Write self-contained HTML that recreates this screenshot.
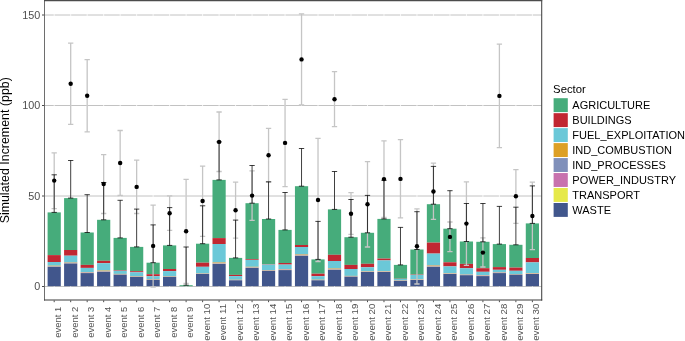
<!DOCTYPE html>
<html lang="en"><head><meta charset="utf-8"><title>Simulated Increment by Sector</title>
<style>html,body{margin:0;padding:0;background:#fff}svg{display:block;will-change:transform}text{font-family:"Liberation Sans",sans-serif}</style></head><body>
<svg width="685" height="341" viewBox="0 0 685 341">
<rect x="0" y="0" width="685" height="341" fill="#fff"/>
<g stroke="#C2C2C2" stroke-width="1" fill="none">
<line x1="44.6" x2="541.65" y1="15.0" y2="15.0"/>
<line x1="44.6" x2="541.65" y1="105.5" y2="105.5"/>
<line x1="44.6" x2="541.65" y1="196.0" y2="196.0"/>
<line x1="44.6" x2="541.65" y1="286.5" y2="286.5"/>
</g>
<g stroke="#fff" stroke-width="0.8" fill="none">
<line x1="54.20" x2="54.20" y1="0.5" y2="299.75"/>
<line x1="70.69" x2="70.69" y1="0.5" y2="299.75"/>
<line x1="87.18" x2="87.18" y1="0.5" y2="299.75"/>
<line x1="103.67" x2="103.67" y1="0.5" y2="299.75"/>
<line x1="120.16" x2="120.16" y1="0.5" y2="299.75"/>
<line x1="136.65" x2="136.65" y1="0.5" y2="299.75"/>
<line x1="153.13" x2="153.13" y1="0.5" y2="299.75"/>
<line x1="169.62" x2="169.62" y1="0.5" y2="299.75"/>
<line x1="186.11" x2="186.11" y1="0.5" y2="299.75"/>
<line x1="202.60" x2="202.60" y1="0.5" y2="299.75"/>
<line x1="219.09" x2="219.09" y1="0.5" y2="299.75"/>
<line x1="235.58" x2="235.58" y1="0.5" y2="299.75"/>
<line x1="252.07" x2="252.07" y1="0.5" y2="299.75"/>
<line x1="268.56" x2="268.56" y1="0.5" y2="299.75"/>
<line x1="285.05" x2="285.05" y1="0.5" y2="299.75"/>
<line x1="301.54" x2="301.54" y1="0.5" y2="299.75"/>
<line x1="318.02" x2="318.02" y1="0.5" y2="299.75"/>
<line x1="334.51" x2="334.51" y1="0.5" y2="299.75"/>
<line x1="351.00" x2="351.00" y1="0.5" y2="299.75"/>
<line x1="367.49" x2="367.49" y1="0.5" y2="299.75"/>
<line x1="383.98" x2="383.98" y1="0.5" y2="299.75"/>
<line x1="400.47" x2="400.47" y1="0.5" y2="299.75"/>
<line x1="416.96" x2="416.96" y1="0.5" y2="299.75"/>
<line x1="433.45" x2="433.45" y1="0.5" y2="299.75"/>
<line x1="449.94" x2="449.94" y1="0.5" y2="299.75"/>
<line x1="466.43" x2="466.43" y1="0.5" y2="299.75"/>
<line x1="482.91" x2="482.91" y1="0.5" y2="299.75"/>
<line x1="499.40" x2="499.40" y1="0.5" y2="299.75"/>
<line x1="515.89" x2="515.89" y1="0.5" y2="299.75"/>
<line x1="532.38" x2="532.38" y1="0.5" y2="299.75"/>
</g>
<g stroke="none">
<rect x="47.60" y="212.40" width="13.20" height="42.70" fill="#46AC7B"/>
<rect x="47.60" y="255.10" width="13.20" height="6.90" fill="#C12732"/>
<rect x="47.60" y="262.00" width="13.20" height="3.70" fill="#6BC8D8"/>
<rect x="47.60" y="265.70" width="13.20" height="0.38" fill="#DDA026"/>
<rect x="47.60" y="266.08" width="13.20" height="0.28" fill="#8090BA"/>
<rect x="47.60" y="266.36" width="13.20" height="0.27" fill="#C872AE"/>
<rect x="47.60" y="266.63" width="13.20" height="0.17" fill="#E6E94A"/>
<rect x="47.60" y="266.80" width="13.20" height="19.40" fill="#41568C"/>
<rect x="64.09" y="198.10" width="13.20" height="51.90" fill="#46AC7B"/>
<rect x="64.09" y="250.00" width="13.20" height="5.70" fill="#C12732"/>
<rect x="64.09" y="255.70" width="13.20" height="6.60" fill="#6BC8D8"/>
<rect x="64.09" y="262.30" width="13.20" height="0.42" fill="#DDA026"/>
<rect x="64.09" y="262.72" width="13.20" height="0.30" fill="#8090BA"/>
<rect x="64.09" y="263.02" width="13.20" height="0.30" fill="#C872AE"/>
<rect x="64.09" y="263.32" width="13.20" height="0.18" fill="#E6E94A"/>
<rect x="64.09" y="263.50" width="13.20" height="22.70" fill="#41568C"/>
<rect x="80.58" y="232.50" width="13.20" height="32.40" fill="#46AC7B"/>
<rect x="80.58" y="264.90" width="13.20" height="3.00" fill="#C12732"/>
<rect x="80.58" y="267.90" width="13.20" height="4.20" fill="#6BC8D8"/>
<rect x="80.58" y="272.10" width="13.20" height="0.35" fill="#DDA026"/>
<rect x="80.58" y="272.45" width="13.20" height="0.25" fill="#8090BA"/>
<rect x="80.58" y="272.70" width="13.20" height="0.25" fill="#C872AE"/>
<rect x="80.58" y="272.95" width="13.20" height="0.15" fill="#E6E94A"/>
<rect x="80.58" y="273.10" width="13.20" height="13.10" fill="#41568C"/>
<rect x="97.07" y="219.80" width="13.20" height="41.00" fill="#46AC7B"/>
<rect x="97.07" y="260.80" width="13.20" height="2.40" fill="#C12732"/>
<rect x="97.07" y="263.20" width="13.20" height="7.30" fill="#6BC8D8"/>
<rect x="97.07" y="270.50" width="13.20" height="0.45" fill="#DDA026"/>
<rect x="97.07" y="270.95" width="13.20" height="0.33" fill="#8090BA"/>
<rect x="97.07" y="271.28" width="13.20" height="0.32" fill="#C872AE"/>
<rect x="97.07" y="271.61" width="13.20" height="0.19" fill="#E6E94A"/>
<rect x="97.07" y="271.80" width="13.20" height="14.40" fill="#41568C"/>
<rect x="113.56" y="237.90" width="13.20" height="32.30" fill="#46AC7B"/>
<rect x="113.56" y="270.20" width="13.20" height="0.60" fill="#C12732"/>
<rect x="113.56" y="270.80" width="13.20" height="3.10" fill="#6BC8D8"/>
<rect x="113.56" y="273.90" width="13.20" height="0.28" fill="#DDA026"/>
<rect x="113.56" y="274.18" width="13.20" height="0.20" fill="#8090BA"/>
<rect x="113.56" y="274.38" width="13.20" height="0.20" fill="#C872AE"/>
<rect x="113.56" y="274.58" width="13.20" height="0.12" fill="#E6E94A"/>
<rect x="113.56" y="274.70" width="13.20" height="11.50" fill="#41568C"/>
<rect x="130.05" y="246.90" width="13.20" height="24.30" fill="#46AC7B"/>
<rect x="130.05" y="271.20" width="13.20" height="1.10" fill="#C12732"/>
<rect x="130.05" y="272.30" width="13.20" height="3.80" fill="#6BC8D8"/>
<rect x="130.05" y="276.10" width="13.20" height="0.28" fill="#DDA026"/>
<rect x="130.05" y="276.38" width="13.20" height="0.20" fill="#8090BA"/>
<rect x="130.05" y="276.58" width="13.20" height="0.20" fill="#C872AE"/>
<rect x="130.05" y="276.78" width="13.20" height="0.12" fill="#E6E94A"/>
<rect x="130.05" y="276.90" width="13.20" height="9.30" fill="#41568C"/>
<rect x="146.53" y="262.70" width="13.20" height="11.50" fill="#46AC7B"/>
<rect x="146.53" y="274.20" width="13.20" height="2.00" fill="#C12732"/>
<rect x="146.53" y="276.20" width="13.20" height="2.80" fill="#6BC8D8"/>
<rect x="146.53" y="279.00" width="13.20" height="0.31" fill="#DDA026"/>
<rect x="146.53" y="279.31" width="13.20" height="0.22" fill="#8090BA"/>
<rect x="146.53" y="279.54" width="13.20" height="0.23" fill="#C872AE"/>
<rect x="146.53" y="279.76" width="13.20" height="0.13" fill="#E6E94A"/>
<rect x="146.53" y="279.90" width="13.20" height="6.30" fill="#41568C"/>
<rect x="163.02" y="245.40" width="13.20" height="23.60" fill="#46AC7B"/>
<rect x="163.02" y="269.00" width="13.20" height="2.10" fill="#C12732"/>
<rect x="163.02" y="271.10" width="13.20" height="5.10" fill="#6BC8D8"/>
<rect x="163.02" y="276.20" width="13.20" height="0.25" fill="#DDA026"/>
<rect x="163.02" y="276.44" width="13.20" height="0.18" fill="#8090BA"/>
<rect x="163.02" y="276.62" width="13.20" height="0.17" fill="#C872AE"/>
<rect x="163.02" y="276.79" width="13.20" height="0.11" fill="#E6E94A"/>
<rect x="163.02" y="276.90" width="13.20" height="9.30" fill="#41568C"/>
<rect x="179.51" y="285.20" width="13.20" height="1.00" fill="#46AC7B"/>
<rect x="196.00" y="243.70" width="13.20" height="19.00" fill="#46AC7B"/>
<rect x="196.00" y="262.70" width="13.20" height="4.10" fill="#C12732"/>
<rect x="196.00" y="266.80" width="13.20" height="6.60" fill="#6BC8D8"/>
<rect x="196.00" y="273.40" width="13.20" height="0.21" fill="#DDA026"/>
<rect x="196.00" y="273.61" width="13.20" height="0.15" fill="#8090BA"/>
<rect x="196.00" y="273.76" width="13.20" height="0.15" fill="#C872AE"/>
<rect x="196.00" y="273.91" width="13.20" height="0.09" fill="#E6E94A"/>
<rect x="196.00" y="274.00" width="13.20" height="12.20" fill="#41568C"/>
<rect x="212.49" y="179.90" width="13.20" height="58.20" fill="#46AC7B"/>
<rect x="212.49" y="238.10" width="13.20" height="5.90" fill="#C12732"/>
<rect x="212.49" y="244.00" width="13.20" height="18.30" fill="#6BC8D8"/>
<rect x="212.49" y="262.30" width="13.20" height="0.56" fill="#DDA026"/>
<rect x="212.49" y="262.86" width="13.20" height="0.40" fill="#8090BA"/>
<rect x="212.49" y="263.26" width="13.20" height="0.40" fill="#C872AE"/>
<rect x="212.49" y="263.66" width="13.20" height="0.24" fill="#E6E94A"/>
<rect x="212.49" y="263.90" width="13.20" height="22.30" fill="#41568C"/>
<rect x="228.98" y="257.90" width="13.20" height="17.00" fill="#46AC7B"/>
<rect x="228.98" y="274.90" width="13.20" height="1.20" fill="#C12732"/>
<rect x="228.98" y="276.10" width="13.20" height="3.60" fill="#6BC8D8"/>
<rect x="228.98" y="279.70" width="13.20" height="0.21" fill="#DDA026"/>
<rect x="228.98" y="279.91" width="13.20" height="0.15" fill="#8090BA"/>
<rect x="228.98" y="280.06" width="13.20" height="0.15" fill="#C872AE"/>
<rect x="228.98" y="280.21" width="13.20" height="0.09" fill="#E6E94A"/>
<rect x="228.98" y="280.30" width="13.20" height="5.90" fill="#41568C"/>
<rect x="245.47" y="203.20" width="13.20" height="55.90" fill="#46AC7B"/>
<rect x="245.47" y="259.10" width="13.20" height="0.80" fill="#C12732"/>
<rect x="245.47" y="259.90" width="13.20" height="6.90" fill="#6BC8D8"/>
<rect x="245.47" y="266.80" width="13.20" height="0.38" fill="#DDA026"/>
<rect x="245.47" y="267.19" width="13.20" height="0.27" fill="#8090BA"/>
<rect x="245.47" y="267.46" width="13.20" height="0.27" fill="#C872AE"/>
<rect x="245.47" y="267.73" width="13.20" height="0.17" fill="#E6E94A"/>
<rect x="245.47" y="267.90" width="13.20" height="18.30" fill="#41568C"/>
<rect x="261.96" y="219.00" width="13.20" height="45.20" fill="#46AC7B"/>
<rect x="261.96" y="264.20" width="13.20" height="0.40" fill="#C12732"/>
<rect x="261.96" y="264.60" width="13.20" height="5.50" fill="#6BC8D8"/>
<rect x="261.96" y="270.10" width="13.20" height="0.28" fill="#DDA026"/>
<rect x="261.96" y="270.38" width="13.20" height="0.20" fill="#8090BA"/>
<rect x="261.96" y="270.58" width="13.20" height="0.20" fill="#C872AE"/>
<rect x="261.96" y="270.78" width="13.20" height="0.12" fill="#E6E94A"/>
<rect x="261.96" y="270.90" width="13.20" height="15.30" fill="#41568C"/>
<rect x="278.45" y="229.90" width="13.20" height="33.10" fill="#46AC7B"/>
<rect x="278.45" y="263.00" width="13.20" height="1.60" fill="#C12732"/>
<rect x="278.45" y="264.60" width="13.20" height="4.40" fill="#6BC8D8"/>
<rect x="278.45" y="269.00" width="13.20" height="0.38" fill="#DDA026"/>
<rect x="278.45" y="269.38" width="13.20" height="0.28" fill="#8090BA"/>
<rect x="278.45" y="269.66" width="13.20" height="0.27" fill="#C872AE"/>
<rect x="278.45" y="269.94" width="13.20" height="0.17" fill="#E6E94A"/>
<rect x="278.45" y="270.10" width="13.20" height="16.10" fill="#41568C"/>
<rect x="294.94" y="186.20" width="13.20" height="58.80" fill="#46AC7B"/>
<rect x="294.94" y="245.00" width="13.20" height="2.00" fill="#C12732"/>
<rect x="294.94" y="247.00" width="13.20" height="7.20" fill="#6BC8D8"/>
<rect x="294.94" y="254.20" width="13.20" height="0.56" fill="#DDA026"/>
<rect x="294.94" y="254.76" width="13.20" height="0.40" fill="#8090BA"/>
<rect x="294.94" y="255.16" width="13.20" height="0.40" fill="#C872AE"/>
<rect x="294.94" y="255.56" width="13.20" height="0.24" fill="#E6E94A"/>
<rect x="294.94" y="255.80" width="13.20" height="30.40" fill="#41568C"/>
<rect x="311.42" y="259.40" width="13.20" height="14.30" fill="#46AC7B"/>
<rect x="311.42" y="273.70" width="13.20" height="2.50" fill="#C12732"/>
<rect x="311.42" y="276.20" width="13.20" height="3.40" fill="#6BC8D8"/>
<rect x="311.42" y="279.60" width="13.20" height="0.25" fill="#DDA026"/>
<rect x="311.42" y="279.85" width="13.20" height="0.18" fill="#8090BA"/>
<rect x="311.42" y="280.02" width="13.20" height="0.17" fill="#C872AE"/>
<rect x="311.42" y="280.19" width="13.20" height="0.11" fill="#E6E94A"/>
<rect x="311.42" y="280.30" width="13.20" height="5.90" fill="#41568C"/>
<rect x="327.91" y="209.40" width="13.20" height="45.40" fill="#46AC7B"/>
<rect x="327.91" y="254.80" width="13.20" height="6.20" fill="#C12732"/>
<rect x="327.91" y="261.00" width="13.20" height="7.30" fill="#6BC8D8"/>
<rect x="327.91" y="268.30" width="13.20" height="0.52" fill="#DDA026"/>
<rect x="327.91" y="268.82" width="13.20" height="0.38" fill="#8090BA"/>
<rect x="327.91" y="269.20" width="13.20" height="0.38" fill="#C872AE"/>
<rect x="327.91" y="269.57" width="13.20" height="0.23" fill="#E6E94A"/>
<rect x="327.91" y="269.80" width="13.20" height="16.40" fill="#41568C"/>
<rect x="344.40" y="237.20" width="13.20" height="27.70" fill="#46AC7B"/>
<rect x="344.40" y="264.90" width="13.20" height="4.10" fill="#C12732"/>
<rect x="344.40" y="269.00" width="13.20" height="6.90" fill="#6BC8D8"/>
<rect x="344.40" y="275.90" width="13.20" height="0.28" fill="#DDA026"/>
<rect x="344.40" y="276.18" width="13.20" height="0.20" fill="#8090BA"/>
<rect x="344.40" y="276.38" width="13.20" height="0.20" fill="#C872AE"/>
<rect x="344.40" y="276.58" width="13.20" height="0.12" fill="#E6E94A"/>
<rect x="344.40" y="276.70" width="13.20" height="9.50" fill="#41568C"/>
<rect x="360.89" y="232.80" width="13.20" height="31.00" fill="#46AC7B"/>
<rect x="360.89" y="263.80" width="13.20" height="3.50" fill="#C12732"/>
<rect x="360.89" y="267.30" width="13.20" height="3.90" fill="#6BC8D8"/>
<rect x="360.89" y="271.20" width="13.20" height="0.28" fill="#DDA026"/>
<rect x="360.89" y="271.48" width="13.20" height="0.20" fill="#8090BA"/>
<rect x="360.89" y="271.68" width="13.20" height="0.20" fill="#C872AE"/>
<rect x="360.89" y="271.88" width="13.20" height="0.12" fill="#E6E94A"/>
<rect x="360.89" y="272.00" width="13.20" height="14.20" fill="#41568C"/>
<rect x="377.38" y="218.90" width="13.20" height="39.70" fill="#46AC7B"/>
<rect x="377.38" y="258.60" width="13.20" height="1.80" fill="#C12732"/>
<rect x="377.38" y="260.40" width="13.20" height="10.70" fill="#6BC8D8"/>
<rect x="377.38" y="271.10" width="13.20" height="0.31" fill="#DDA026"/>
<rect x="377.38" y="271.42" width="13.20" height="0.22" fill="#8090BA"/>
<rect x="377.38" y="271.64" width="13.20" height="0.23" fill="#C872AE"/>
<rect x="377.38" y="271.87" width="13.20" height="0.13" fill="#E6E94A"/>
<rect x="377.38" y="272.00" width="13.20" height="14.20" fill="#41568C"/>
<rect x="393.87" y="264.90" width="13.20" height="13.80" fill="#46AC7B"/>
<rect x="393.87" y="278.70" width="13.20" height="0.20" fill="#C12732"/>
<rect x="393.87" y="278.90" width="13.20" height="1.40" fill="#6BC8D8"/>
<rect x="393.87" y="280.30" width="13.20" height="0.21" fill="#DDA026"/>
<rect x="393.87" y="280.51" width="13.20" height="0.15" fill="#8090BA"/>
<rect x="393.87" y="280.66" width="13.20" height="0.15" fill="#C872AE"/>
<rect x="393.87" y="280.81" width="13.20" height="0.09" fill="#E6E94A"/>
<rect x="393.87" y="280.90" width="13.20" height="5.30" fill="#41568C"/>
<rect x="410.36" y="249.50" width="13.20" height="25.00" fill="#46AC7B"/>
<rect x="410.36" y="274.50" width="13.20" height="0.40" fill="#C12732"/>
<rect x="410.36" y="274.90" width="13.20" height="4.40" fill="#6BC8D8"/>
<rect x="410.36" y="279.30" width="13.20" height="0.25" fill="#DDA026"/>
<rect x="410.36" y="279.55" width="13.20" height="0.18" fill="#8090BA"/>
<rect x="410.36" y="279.72" width="13.20" height="0.17" fill="#C872AE"/>
<rect x="410.36" y="279.89" width="13.20" height="0.11" fill="#E6E94A"/>
<rect x="410.36" y="280.00" width="13.20" height="6.20" fill="#41568C"/>
<rect x="426.85" y="204.20" width="13.20" height="38.40" fill="#46AC7B"/>
<rect x="426.85" y="242.60" width="13.20" height="11.00" fill="#C12732"/>
<rect x="426.85" y="253.60" width="13.20" height="11.60" fill="#6BC8D8"/>
<rect x="426.85" y="265.20" width="13.20" height="0.56" fill="#DDA026"/>
<rect x="426.85" y="265.76" width="13.20" height="0.40" fill="#8090BA"/>
<rect x="426.85" y="266.16" width="13.20" height="0.40" fill="#C872AE"/>
<rect x="426.85" y="266.56" width="13.20" height="0.24" fill="#E6E94A"/>
<rect x="426.85" y="266.80" width="13.20" height="19.40" fill="#41568C"/>
<rect x="443.34" y="228.70" width="13.20" height="33.60" fill="#46AC7B"/>
<rect x="443.34" y="262.30" width="13.20" height="4.10" fill="#C12732"/>
<rect x="443.34" y="266.40" width="13.20" height="6.70" fill="#6BC8D8"/>
<rect x="443.34" y="273.10" width="13.20" height="0.31" fill="#DDA026"/>
<rect x="443.34" y="273.42" width="13.20" height="0.22" fill="#8090BA"/>
<rect x="443.34" y="273.64" width="13.20" height="0.23" fill="#C872AE"/>
<rect x="443.34" y="273.87" width="13.20" height="0.13" fill="#E6E94A"/>
<rect x="443.34" y="274.00" width="13.20" height="12.20" fill="#41568C"/>
<rect x="459.82" y="241.50" width="13.20" height="22.40" fill="#46AC7B"/>
<rect x="459.82" y="263.90" width="13.20" height="4.30" fill="#C12732"/>
<rect x="459.82" y="268.20" width="13.20" height="6.30" fill="#6BC8D8"/>
<rect x="459.82" y="274.50" width="13.20" height="0.25" fill="#DDA026"/>
<rect x="459.82" y="274.75" width="13.20" height="0.18" fill="#8090BA"/>
<rect x="459.82" y="274.92" width="13.20" height="0.17" fill="#C872AE"/>
<rect x="459.82" y="275.09" width="13.20" height="0.11" fill="#E6E94A"/>
<rect x="459.82" y="275.20" width="13.20" height="11.00" fill="#41568C"/>
<rect x="476.31" y="241.80" width="13.20" height="26.40" fill="#46AC7B"/>
<rect x="476.31" y="268.20" width="13.20" height="3.60" fill="#C12732"/>
<rect x="476.31" y="271.80" width="13.20" height="3.40" fill="#6BC8D8"/>
<rect x="476.31" y="275.20" width="13.20" height="0.31" fill="#DDA026"/>
<rect x="476.31" y="275.51" width="13.20" height="0.23" fill="#8090BA"/>
<rect x="476.31" y="275.74" width="13.20" height="0.23" fill="#C872AE"/>
<rect x="476.31" y="275.97" width="13.20" height="0.13" fill="#E6E94A"/>
<rect x="476.31" y="276.10" width="13.20" height="10.10" fill="#41568C"/>
<rect x="492.80" y="244.10" width="13.20" height="23.00" fill="#46AC7B"/>
<rect x="492.80" y="267.10" width="13.20" height="2.70" fill="#C12732"/>
<rect x="492.80" y="269.80" width="13.20" height="2.50" fill="#6BC8D8"/>
<rect x="492.80" y="272.30" width="13.20" height="0.28" fill="#DDA026"/>
<rect x="492.80" y="272.58" width="13.20" height="0.20" fill="#8090BA"/>
<rect x="492.80" y="272.78" width="13.20" height="0.20" fill="#C872AE"/>
<rect x="492.80" y="272.98" width="13.20" height="0.12" fill="#E6E94A"/>
<rect x="492.80" y="273.10" width="13.20" height="13.10" fill="#41568C"/>
<rect x="509.29" y="244.80" width="13.20" height="22.80" fill="#46AC7B"/>
<rect x="509.29" y="267.60" width="13.20" height="3.20" fill="#C12732"/>
<rect x="509.29" y="270.80" width="13.20" height="3.20" fill="#6BC8D8"/>
<rect x="509.29" y="274.00" width="13.20" height="0.25" fill="#DDA026"/>
<rect x="509.29" y="274.25" width="13.20" height="0.18" fill="#8090BA"/>
<rect x="509.29" y="274.42" width="13.20" height="0.17" fill="#C872AE"/>
<rect x="509.29" y="274.59" width="13.20" height="0.11" fill="#E6E94A"/>
<rect x="509.29" y="274.70" width="13.20" height="11.50" fill="#41568C"/>
<rect x="525.78" y="223.40" width="13.20" height="34.60" fill="#46AC7B"/>
<rect x="525.78" y="258.00" width="13.20" height="4.40" fill="#C12732"/>
<rect x="525.78" y="262.40" width="13.20" height="10.60" fill="#6BC8D8"/>
<rect x="525.78" y="273.00" width="13.20" height="0.35" fill="#DDA026"/>
<rect x="525.78" y="273.35" width="13.20" height="0.25" fill="#8090BA"/>
<rect x="525.78" y="273.60" width="13.20" height="0.25" fill="#C872AE"/>
<rect x="525.78" y="273.85" width="13.20" height="0.15" fill="#E6E94A"/>
<rect x="525.78" y="274.00" width="13.20" height="12.20" fill="#41568C"/>
</g>
<g stroke="#C5C5C5" stroke-width="1.3" fill="none">
<path d="M51.55 152.9H56.85M54.20 152.9V208.6M51.55 208.6H56.85"/>
<path d="M68.04 43.2H73.34M70.69 43.2V124.3M68.04 124.3H73.34"/>
<path d="M84.53 59.7H89.83M87.18 59.7V131.9M84.53 131.9H89.83"/>
<path d="M101.02 154.7H106.32M103.67 154.7V213.5M101.02 213.5H106.32"/>
<path d="M117.51 130.5H122.81M120.16 130.5V195.5M117.51 195.5H122.81"/>
<path d="M134.00 160.1H139.30M136.65 160.1V213.5M134.00 213.5H139.30"/>
<path d="M150.48 205.1H155.78M153.13 205.1V287.2M150.48 287.2H155.78"/>
<path d="M166.97 195.9H172.27M169.62 195.9V230.3M166.97 230.3H172.27"/>
<path d="M183.46 179.3H188.76M186.11 179.3V283.3M183.46 283.3H188.76"/>
<path d="M199.95 166.1H205.25M202.60 166.1V236.3M199.95 236.3H205.25"/>
<path d="M216.44 112.0H221.74M219.09 112.0V171.5M216.44 171.5H221.74"/>
<path d="M232.93 182.1H238.23M235.58 182.1V238.1M232.93 238.1H238.23"/>
<path d="M249.42 170.8H254.72M252.07 170.8V220.4M249.42 220.4H254.72"/>
<path d="M265.91 128.3H271.21M268.56 128.3V182.1M265.91 182.1H271.21"/>
<path d="M282.40 99.3H287.70M285.05 99.3V186.6M282.40 186.6H287.70"/>
<path d="M298.89 13.9H304.19M301.54 13.9V104.8M298.89 104.8H304.19"/>
<path d="M315.37 138.4H320.67M318.02 138.4V261.5M315.37 261.5H320.67"/>
<path d="M331.86 71.7H337.16M334.51 71.7V126.7M331.86 126.7H337.16"/>
<path d="M348.35 192.6H353.65M351.00 192.6V234.3M348.35 234.3H353.65"/>
<path d="M364.84 161.6H370.14M367.49 161.6V247.0M364.84 247.0H370.14"/>
<path d="M381.33 140.9H386.63M383.98 140.9V217.5M381.33 217.5H386.63"/>
<path d="M397.82 139.6H403.12M400.47 139.6V217.9M397.82 217.9H403.12"/>
<path d="M414.31 208.8H419.61M416.96 208.8V284.0M414.31 284.0H419.61"/>
<path d="M430.80 163.2H436.10M433.45 163.2V219.3M430.80 219.3H436.10"/>
<path d="M447.29 222.0H452.59M449.94 222.0V251.7M447.29 251.7H452.59"/>
<path d="M463.78 181.8H469.07M466.43 181.8V265.4M463.78 265.4H469.07"/>
<path d="M480.26 237.9H485.56M482.91 237.9V267.0M480.26 267.0H485.56"/>
<path d="M496.75 44.2H502.05M499.40 44.2V147.6M496.75 147.6H502.05"/>
<path d="M513.24 169.6H518.54M515.89 169.6V223.4M513.24 223.4H518.54"/>
<path d="M529.73 182.1H535.03M532.38 182.1V249.7M529.73 249.7H535.03"/>
</g>
<g stroke="#000" stroke-width="0.75" fill="none">
<path d="M51.55 174.8H56.85M54.20 174.8V212.4M51.55 212.4H56.85"/>
<path d="M68.04 160.5H73.34M70.69 160.5V198.1M68.04 198.1H73.34"/>
<path d="M84.53 194.7H89.83M87.18 194.7V232.5M84.53 232.5H89.83"/>
<path d="M101.02 182.5H106.32M103.67 182.5V219.8M101.02 219.8H106.32"/>
<path d="M117.51 200.3H122.81M120.16 200.3V237.9M117.51 237.9H122.81"/>
<path d="M134.00 209.1H139.30M136.65 209.1V246.9M134.00 246.9H139.30"/>
<path d="M150.48 224.9H155.78M153.13 224.9V262.7M150.48 262.7H155.78"/>
<path d="M166.97 207.6H172.27M169.62 207.6V245.4M166.97 245.4H172.27"/>
<path d="M183.46 247.0H188.76M186.11 247.0V285.2M183.46 285.2H188.76"/>
<path d="M199.95 205.8H205.25M202.60 205.8V243.7M199.95 243.7H205.25"/>
<path d="M216.44 141.9H221.74M219.09 141.9V179.9M216.44 179.9H221.74"/>
<path d="M232.93 220.1H238.23M235.58 220.1V257.9M232.93 257.9H238.23"/>
<path d="M249.42 165.5H254.72M252.07 165.5V203.2M249.42 203.2H254.72"/>
<path d="M265.91 181.8H271.21M268.56 181.8V219.0M265.91 219.0H271.21"/>
<path d="M282.40 192.5H287.70M285.05 192.5V229.9M282.40 229.9H287.70"/>
<path d="M298.89 148.5H304.19M301.54 148.5V186.2M298.89 186.2H304.19"/>
<path d="M315.37 221.4H320.67M318.02 221.4V259.4M315.37 259.4H320.67"/>
<path d="M331.86 171.5H337.16M334.51 171.5V209.4M331.86 209.4H337.16"/>
<path d="M348.35 199.5H353.65M351.00 199.5V237.2M348.35 237.2H353.65"/>
<path d="M364.84 195.4H370.14M367.49 195.4V232.8M364.84 232.8H370.14"/>
<path d="M381.33 180.3H386.63M383.98 180.3V218.9M381.33 218.9H386.63"/>
<path d="M397.82 227.4H403.12M400.47 227.4V264.9M397.82 264.9H403.12"/>
<path d="M414.31 211.7H419.61M416.96 211.7V249.5M414.31 249.5H419.61"/>
<path d="M430.80 166.4H436.10M433.45 166.4V204.2M430.80 204.2H436.10"/>
<path d="M447.29 190.7H452.59M449.94 190.7V228.7M447.29 228.7H452.59"/>
<path d="M463.78 203.5H469.07M466.43 203.5V241.5M463.78 241.5H469.07"/>
<path d="M480.26 203.5H485.56M482.91 203.5V241.8M480.26 241.8H485.56"/>
<path d="M496.75 206.4H502.05M499.40 206.4V244.1M496.75 244.1H502.05"/>
<path d="M513.24 207.2H518.54M515.89 207.2V244.8M513.24 244.8H518.54"/>
<path d="M529.73 185.9H535.03M532.38 185.9V223.4M529.73 223.4H535.03"/>
</g>
<g fill="#000">
<circle cx="54.20" cy="180.6" r="2.2"/>
<circle cx="70.69" cy="83.7" r="2.2"/>
<circle cx="87.18" cy="95.8" r="2.2"/>
<circle cx="103.67" cy="184.0" r="2.2"/>
<circle cx="120.16" cy="163.0" r="2.2"/>
<circle cx="136.65" cy="186.9" r="2.2"/>
<circle cx="153.13" cy="245.9" r="2.2"/>
<circle cx="169.62" cy="213.2" r="2.2"/>
<circle cx="186.11" cy="231.3" r="2.2"/>
<circle cx="202.60" cy="201.0" r="2.2"/>
<circle cx="219.09" cy="141.9" r="2.2"/>
<circle cx="235.58" cy="210.2" r="2.2"/>
<circle cx="252.07" cy="195.6" r="2.2"/>
<circle cx="268.56" cy="155.2" r="2.2"/>
<circle cx="285.05" cy="142.9" r="2.2"/>
<circle cx="301.54" cy="59.4" r="2.2"/>
<circle cx="318.02" cy="200.0" r="2.2"/>
<circle cx="334.51" cy="99.3" r="2.2"/>
<circle cx="351.00" cy="213.8" r="2.2"/>
<circle cx="367.49" cy="204.2" r="2.2"/>
<circle cx="383.98" cy="179.1" r="2.2"/>
<circle cx="400.47" cy="178.9" r="2.2"/>
<circle cx="416.96" cy="246.3" r="2.2"/>
<circle cx="433.45" cy="191.5" r="2.2"/>
<circle cx="449.94" cy="236.9" r="2.2"/>
<circle cx="466.43" cy="223.6" r="2.2"/>
<circle cx="482.91" cy="252.6" r="2.2"/>
<circle cx="499.40" cy="95.9" r="2.2"/>
<circle cx="515.89" cy="196.3" r="2.2"/>
<circle cx="532.38" cy="216.0" r="2.2"/>
</g>
<g fill="none">
<line x1="44.5" x2="44.5" y1="0" y2="300.55" stroke="#6e6e6e" stroke-width="1"/>
<line x1="44" x2="542.2" y1="300.0" y2="300.0" stroke="#3c3c3c" stroke-width="1.1"/>
<line x1="541.72" x2="541.72" y1="0" y2="300.55" stroke="#383838" stroke-width="1"/>
<line x1="44" x2="542.2" y1="0.6" y2="0.6" stroke="#4c4c4c" stroke-width="1.2"/>
</g>
<g stroke="#4a4a4a" stroke-width="1" fill="none">
<line x1="42.0" x2="44.2" y1="15.0" y2="15.0"/>
<line x1="42.0" x2="44.2" y1="105.5" y2="105.5"/>
<line x1="42.0" x2="44.2" y1="196.0" y2="196.0"/>
<line x1="42.0" x2="44.2" y1="286.5" y2="286.5"/>
<line x1="54.20" x2="54.20" y1="300.4" y2="302.2"/>
<line x1="70.69" x2="70.69" y1="300.4" y2="302.2"/>
<line x1="87.18" x2="87.18" y1="300.4" y2="302.2"/>
<line x1="103.67" x2="103.67" y1="300.4" y2="302.2"/>
<line x1="120.16" x2="120.16" y1="300.4" y2="302.2"/>
<line x1="136.65" x2="136.65" y1="300.4" y2="302.2"/>
<line x1="153.13" x2="153.13" y1="300.4" y2="302.2"/>
<line x1="169.62" x2="169.62" y1="300.4" y2="302.2"/>
<line x1="186.11" x2="186.11" y1="300.4" y2="302.2"/>
<line x1="202.60" x2="202.60" y1="300.4" y2="302.2"/>
<line x1="219.09" x2="219.09" y1="300.4" y2="302.2"/>
<line x1="235.58" x2="235.58" y1="300.4" y2="302.2"/>
<line x1="252.07" x2="252.07" y1="300.4" y2="302.2"/>
<line x1="268.56" x2="268.56" y1="300.4" y2="302.2"/>
<line x1="285.05" x2="285.05" y1="300.4" y2="302.2"/>
<line x1="301.54" x2="301.54" y1="300.4" y2="302.2"/>
<line x1="318.02" x2="318.02" y1="300.4" y2="302.2"/>
<line x1="334.51" x2="334.51" y1="300.4" y2="302.2"/>
<line x1="351.00" x2="351.00" y1="300.4" y2="302.2"/>
<line x1="367.49" x2="367.49" y1="300.4" y2="302.2"/>
<line x1="383.98" x2="383.98" y1="300.4" y2="302.2"/>
<line x1="400.47" x2="400.47" y1="300.4" y2="302.2"/>
<line x1="416.96" x2="416.96" y1="300.4" y2="302.2"/>
<line x1="433.45" x2="433.45" y1="300.4" y2="302.2"/>
<line x1="449.94" x2="449.94" y1="300.4" y2="302.2"/>
<line x1="466.43" x2="466.43" y1="300.4" y2="302.2"/>
<line x1="482.91" x2="482.91" y1="300.4" y2="302.2"/>
<line x1="499.40" x2="499.40" y1="300.4" y2="302.2"/>
<line x1="515.89" x2="515.89" y1="300.4" y2="302.2"/>
<line x1="532.38" x2="532.38" y1="300.4" y2="302.2"/>
</g>
<g fill="#4D4D4D" font-size="10.8" text-anchor="end">
<text x="40.3" y="18.90">150</text>
<text x="40.3" y="109.40">100</text>
<text x="40.3" y="199.90">50</text>
<text x="40.3" y="290.40">0</text>
</g>
<g fill="#525252" font-size="9.7" text-anchor="middle">
<text transform="translate(61.30 322.2) rotate(-90)" font-size="9.45">event 1</text>
<text transform="translate(77.79 322.2) rotate(-90)" font-size="9.45">event 2</text>
<text transform="translate(94.28 322.2) rotate(-90)" font-size="9.45">event 3</text>
<text transform="translate(110.77 322.2) rotate(-90)" font-size="9.45">event 4</text>
<text transform="translate(127.26 322.2) rotate(-90)" font-size="9.45">event 5</text>
<text transform="translate(143.75 322.2) rotate(-90)" font-size="9.45">event 6</text>
<text transform="translate(160.23 322.2) rotate(-90)" font-size="9.45">event 7</text>
<text transform="translate(176.72 322.2) rotate(-90)" font-size="9.45">event 8</text>
<text transform="translate(193.21 322.2) rotate(-90)" font-size="9.45">event 9</text>
<text transform="translate(209.70 322.2) rotate(-90)">event 10</text>
<text transform="translate(226.19 322.2) rotate(-90)">event 11</text>
<text transform="translate(242.68 322.2) rotate(-90)">event 12</text>
<text transform="translate(259.17 322.2) rotate(-90)">event 13</text>
<text transform="translate(275.66 322.2) rotate(-90)">event 14</text>
<text transform="translate(292.15 322.2) rotate(-90)">event 15</text>
<text transform="translate(308.64 322.2) rotate(-90)">event 16</text>
<text transform="translate(325.12 322.2) rotate(-90)">event 17</text>
<text transform="translate(341.61 322.2) rotate(-90)">event 18</text>
<text transform="translate(358.10 322.2) rotate(-90)">event 19</text>
<text transform="translate(374.59 322.2) rotate(-90)">event 20</text>
<text transform="translate(391.08 322.2) rotate(-90)">event 21</text>
<text transform="translate(407.57 322.2) rotate(-90)">event 22</text>
<text transform="translate(424.06 322.2) rotate(-90)">event 23</text>
<text transform="translate(440.55 322.2) rotate(-90)">event 24</text>
<text transform="translate(457.04 322.2) rotate(-90)">event 25</text>
<text transform="translate(473.53 322.2) rotate(-90)">event 26</text>
<text transform="translate(490.01 322.2) rotate(-90)">event 27</text>
<text transform="translate(506.50 322.2) rotate(-90)">event 28</text>
<text transform="translate(522.99 322.2) rotate(-90)">event 29</text>
<text transform="translate(539.48 322.2) rotate(-90)">event 30</text>
</g>
<text transform="translate(9.1 150.25) rotate(-90)" font-size="12.3" text-anchor="middle" textLength="146.2" lengthAdjust="spacing" fill="#000">Simulated Increment (ppb)</text>
<text x="553.1" y="93.1" font-size="11.3" fill="#000">Sector</text>
<rect x="553.6" y="98.20" width="14.2" height="13.9" fill="#46AC7B"/>
<text x="572.3" y="108.90" font-size="11" fill="#000">AGRICULTURE</text>
<rect x="553.6" y="113.17" width="14.2" height="13.9" fill="#C12732"/>
<text x="572.3" y="123.87" font-size="11" fill="#000">BUILDINGS</text>
<rect x="553.6" y="128.14" width="14.2" height="13.9" fill="#6BC8D8"/>
<text x="572.3" y="138.84" font-size="11" fill="#000">FUEL_EXPLOITATION</text>
<rect x="553.6" y="143.11" width="14.2" height="13.9" fill="#DDA026"/>
<text x="572.3" y="153.81" font-size="11" fill="#000">IND_COMBUSTION</text>
<rect x="553.6" y="158.08" width="14.2" height="13.9" fill="#8090BA"/>
<text x="572.3" y="168.78" font-size="11" fill="#000">IND_PROCESSES</text>
<rect x="553.6" y="173.05" width="14.2" height="13.9" fill="#C872AE"/>
<text x="572.3" y="183.75" font-size="11" fill="#000">POWER_INDUSTRY</text>
<rect x="553.6" y="188.02" width="14.2" height="13.9" fill="#E6E94A"/>
<text x="572.3" y="198.72" font-size="11" fill="#000">TRANSPORT</text>
<rect x="553.6" y="202.99" width="14.2" height="13.9" fill="#41568C"/>
<text x="572.3" y="213.69" font-size="11" fill="#000">WASTE</text>
</svg></body></html>
